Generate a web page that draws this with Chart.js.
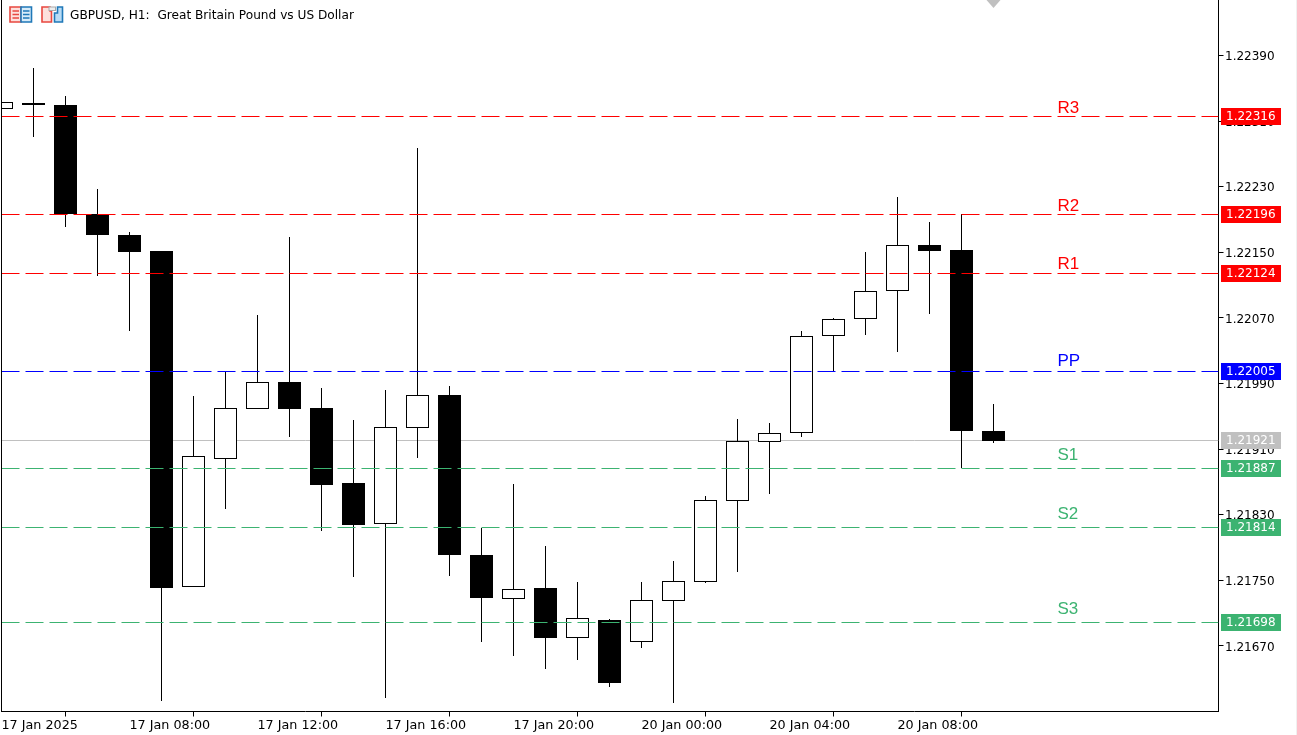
<!DOCTYPE html>
<html>
<head>
<meta charset="utf-8">
<title>GBPUSD, H1</title>
<style>
  html, body { margin: 0; padding: 0; background: #f0f0f0; overflow: hidden; }
  #box { position: absolute; left: 0; top: 0; width: 1296px; height: 735px; background: #fff; }
  #icons { position: absolute; left: 0; top: 0; }
</style>
<script src="https://cdn.jsdelivr.net/npm/chart.js@4"></script>
</head>
<body>
<div id="box">
  <canvas id="gbpChart" width="1296" height="735"></canvas>
  <svg id="icons" width="70" height="28">
    <path d="M21 7H10v15h11z" fill="#fde0dc" stroke="#e8473f" stroke-width="1.6"/>
    <path d="M21 7h10.5v15H21z" fill="#d7ebf9" stroke="#1f78b8" stroke-width="1.6"/>
    <path d="M12.5 11h6.5M12.5 14.5h6.5M12.5 18h6.5" stroke="#e8473f" stroke-width="1.6"/>
    <path d="M23 11h6.5M23 14.5h6.5M23 18h6.5" stroke="#1f78b8" stroke-width="1.6"/>
    <path d="M42 7h8v4h1.5v11H42z" fill="#fde0dc" stroke="#e8473f" stroke-width="1.6"/>
    <path d="M54.5 13h3V7h5v15h-8z" fill="#b9dcf5" stroke="#1f78b8" stroke-width="1.6"/>
    <rect x="49" y="7" width="6.5" height="3.5" fill="#eee" stroke="#aaa"/>
  </svg>
</div>
<script>
// bars, oldest first
const opens  = [1.22326,1.22332,1.22329,1.22196,1.22171,1.22151,1.21742,1.21899,1.21960,1.21991,1.21960,1.21868,1.21819,1.21936,1.21976,1.21781,1.21728,1.21740,1.21680,1.21701,1.21676,1.21725,1.21749,1.21847,1.21919,1.21930,1.22048,1.22069,1.22103,1.22159,1.22153,1.21932];
const highs  = [1.22333,1.22374,1.22340,1.22227,1.22175,1.22151,1.21974,1.22004,1.22073,1.22168,1.21984,1.21945,1.21982,1.22277,1.21987,1.21813,1.21867,1.21791,1.21747,1.21702,1.21748,1.21773,1.21853,1.21946,1.21941,1.22054,1.22070,1.22150,1.22217,1.22186,1.22196,1.21965];
const lows   = [1.22326,1.22290,1.22180,1.22121,1.22054,1.21602,1.21742,1.21836,1.21958,1.21925,1.21810,1.21754,1.21606,1.21899,1.21755,1.21675,1.21657,1.21642,1.21652,1.21619,1.21667,1.21600,1.21746,1.21760,1.21855,1.21925,1.22004,1.22049,1.22028,1.22074,1.21886,1.21917];
const closes = [1.22333,1.22329,1.22196,1.22171,1.22150,1.21740,1.21901,1.21959,1.21991,1.21958,1.21866,1.21817,1.21936,1.21976,1.21781,1.21728,1.21739,1.21679,1.21703,1.21624,1.21726,1.21749,1.21847,1.21919,1.21929,1.22047,1.22068,1.22102,1.22158,1.22151,1.21932,1.21919];

const timeTickBars = [0,4,8,12,16,20,24,28];
const timeTickLabels = ['17 Jan 2025','17 Jan 08:00','17 Jan 12:00','17 Jan 16:00','17 Jan 20:00','20 Jan 00:00','20 Jan 04:00','20 Jan 08:00'];
const priceTicks = [1.22390,1.22310,1.22230,1.22150,1.22070,1.21990,1.21910,1.21830,1.21750,1.21670];

const levelNames  = ['R3','R2','R1','PP','S1','S2','S3'];
const levelValues = [1.22316,1.22196,1.22124,1.22005,1.21887,1.21814,1.21698];
const levelColors = ['#ff0000','#ff0000','#ff0000','#0000ff','#3cb371','#3cb371','#3cb371'];
const lastPrice = 1.21921;

const TAG_FONT = '12px "DejaVu Sans"';
const lastBar = 1217 / 32;   // right edge of the plot in bar units
const nameAtBar = 33;
const nameLift = [3, 3, 4, 5, 8, 8, 8];

const bars = opens.map((o, i) => i);

const levelSets = levelValues.map((v, i) => ({
  type: 'line',
  label: levelNames[i],
  data: [{x: 0, y: v}, {x: lastBar, y: v}],
  borderColor: levelColors[i],
  borderWidth: 1,
  borderDash: [18, 6],
  pointRadius: 0,
  order: 0
}));

// snap marks to whole pixels, the original is not antialiased
const snapPlugin = {
  id: 'snap',
  afterDatasetsUpdate(chart) {
    chart.getSortedVisibleDatasetMetas().forEach(meta => {
      const isBody = chart.data.datasets[meta.index].label === 'Body';
      meta.data.forEach((el, i) => {
        if (meta.type !== 'bar') {
          el.y = Math.floor(el.y) + 0.5;
          return;
        }
        el.x = Math.floor(el.x) + 0.5;
        if (isBody && closes[i] >= opens[i]) {
          // hollow bodies: the outline sits on the row of the price
          el.y = Math.floor(el.y);
          el.base = Math.floor(el.base) + 1;
        } else {
          el.y = Math.floor(el.y + 0.15);
          el.base = Math.floor(el.base + 0.15);
        }
        el.height = el.base - el.y;
      });
    });
  }
};

function drawTag(ctx, y, color, text) {
  const top = Math.floor(y) - 8;
  ctx.fillStyle = color;
  ctx.fillRect(1221, top, 60, 17);
  ctx.fillStyle = '#ffffff';
  ctx.textAlign = 'left';
  ctx.textBaseline = 'middle';
  ctx.fillText(text, 1226, top + 9);
}

const overlayPlugin = {
  id: 'overlay',
  afterDraw(chart) {
    const ctx = chart.ctx, sx = chart.scales.x, sy = chart.scales.y;
    ctx.save();
    // left border
    ctx.fillStyle = '#000';
    ctx.fillRect(1, 0, 1, 712);
    // chart shift marker
    const mx = sx.getPixelForValue(31);
    ctx.fillStyle = '#c0c0c0';
    ctx.beginPath();
    ctx.moveTo(mx - 7, 0);
    ctx.lineTo(mx + 7, 0);
    ctx.lineTo(mx, 8);
    ctx.fill();
    // title
    ctx.fillStyle = '#000';
    ctx.font = '12.15px "DejaVu Sans"';
    ctx.textAlign = 'left';
    ctx.textBaseline = 'middle';
    ctx.fillText('GBPUSD, H1:  Great Britain Pound vs US Dollar', 70, 15.5);
    // price tags
    ctx.font = TAG_FONT;
    drawTag(ctx, sy.getPixelForValue(lastPrice), '#c0c0c0', lastPrice.toFixed(5));
    levelValues.forEach((v, i) => drawTag(ctx, sy.getPixelForValue(v), levelColors[i], v.toFixed(5)));
    // level names
    ctx.font = '17px "Liberation Sans"';
    ctx.textBaseline = 'alphabetic';
    levelValues.forEach((v, i) => {
      ctx.fillStyle = levelColors[i];
      ctx.fillText(levelNames[i], sx.getPixelForValue(nameAtBar), Math.floor(sy.getPixelForValue(v)) - nameLift[i]);
    });
    ctx.restore();
  }
};

new Chart(document.getElementById('gbpChart'), {
  type: 'bar',
  data: {
    datasets: [
      ...levelSets,
      {
        label: 'Body',
        data: bars.map(i => ({x: i, y: [opens[i], closes[i]]})),
        backgroundColor: bars.map(i => closes[i] >= opens[i] ? '#ffffff' : '#000000'),
        borderColor: '#000000',
        borderWidth: 1,
        borderSkipped: false,
        inflateAmount: 0,
        barThickness: 23,
        grouped: false,
        order: 1
      },
      {
        label: 'Wick',
        data: bars.map(i => ({x: i, y: [lows[i], highs[i]]})),
        backgroundColor: '#000000',
        borderWidth: 0,
        inflateAmount: 0,
        barThickness: 1,
        grouped: false,
        order: 2
      },
      {
        type: 'line',
        label: 'Last',
        data: [{x: 0, y: lastPrice}, {x: lastBar, y: lastPrice}],
        borderColor: '#c0c0c0',
        borderWidth: 1,
        pointRadius: 0,
        order: 3
      }
    ]
  },
  plugins: [snapPlugin, overlayPlugin],
  options: {
    responsive: false,
    animation: false,
    devicePixelRatio: 1,
    layout: { padding: { left: 1.5, top: 0, right: 0, bottom: 0 } },
    plugins: { legend: { display: false }, tooltip: { enabled: false } },
    events: [],
    scales: {
      x: {
        type: 'linear',
        min: 0,
        max: lastBar,
        offset: false,
        grid: { drawOnChartArea: false, tickLength: 5, tickColor: '#000' },
        border: { color: '#000' },
        afterBuildTicks(scale) { scale.ticks = timeTickBars.map(v => ({ value: v })); },
        afterFit(scale) {
          scale.height = 23.5;
          scale.paddingLeft = scale.paddingRight = 0;
        },
        ticks: {
          autoSkip: false,
          maxRotation: 0,
          minRotation: 0,
          align: 'start',
          padding: 2,
          color: '#000',
          font: { family: 'DejaVu Sans', size: 12.75 },
          callback: v => timeTickLabels[timeTickBars.indexOf(v)]
        }
      },
      y: {
        type: 'linear',
        position: 'right',
        min: 1.21590061,
        max: 1.22457744,
        grid: { drawOnChartArea: false, tickLength: 5, tickColor: '#000' },
        border: { color: '#000' },
        afterBuildTicks(scale) { scale.ticks = priceTicks.map(v => ({ value: v })); },
        afterFit(scale) {
          scale.width = 77.5;
          scale.paddingTop = scale.paddingBottom = 0;
        },
        ticks: {
          autoSkip: false,
          padding: 1.5,
          labelOffset: 1.5,
          color: '#000',
          font: { family: 'DejaVu Sans', size: 12 },
          callback: v => v.toFixed(5)
        }
      }
    }
  }
});
</script>
</body>
</html>
